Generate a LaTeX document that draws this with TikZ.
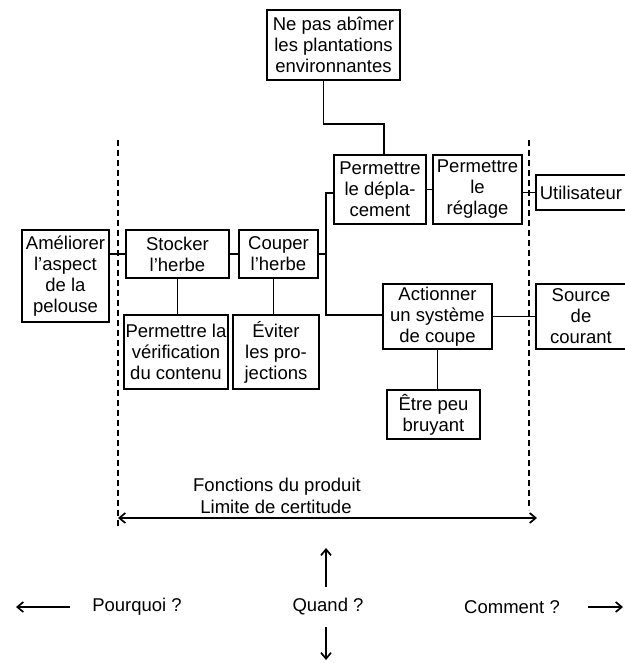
\documentclass[tikz,border=0pt]{standalone}
\usepackage{fontspec}
\setmainfont{Liberation Sans}
\usetikzlibrary{arrows.meta}
\newcommand\fafont{\fontsize{18.5}{21}\selectfont}
\begin{document}
\begin{tikzpicture}[x=1pt,y=-1pt,
  fbox/.style={draw, line width=2pt, inner sep=0pt, align=center, font=\fafont},
  link/.style={line width=1.7pt},
  limit/.style={line width=1.7pt, dash pattern=on 6pt off 4pt},
  arr/.style={line width=1.7pt, -{Straight Barb[length=6pt,width=10pt]}},
  lbl/.style={font=\fafont, inner sep=0pt}]
\useasboundingbox (0,0) rectangle (624,663);
\fill[white] (0,0) rectangle (624,663);

% function boxes
\node[fbox, minimum width=133pt, minimum height=70pt] (proteger) at (333.5,45) {Ne pas abîmer\\les plantations\\environnantes};
\node[fbox, minimum width=87pt, minimum height=92pt] (amel) at (65.5,276) {Améliorer\\l'aspect\\de la\\pelouse};
\node[fbox, minimum width=103pt, minimum height=48pt] (stock) at (177.5,254) {Stocker\\l'herbe};
\node[fbox, minimum width=79pt, minimum height=48pt] (coupe) at (278.5,254) {Couper\\l'herbe};
\node[fbox, minimum width=104pt, minimum height=74pt] (verif) at (176,352) {Permettre la\\vérification\\du contenu};
\node[fbox, minimum width=86pt, minimum height=74pt] (evit) at (276,352) {Éviter\\les pro-\\jections};
\node[fbox, minimum width=92pt, minimum height=69pt] (depl) at (380,189.5) {Permettre\\le dépla-\\cement};
\node[fbox, minimum width=89pt, minimum height=69pt] (regl) at (477.5,189.5) {Permettre\\le\\réglage};
\node[fbox, minimum width=90pt, minimum height=35pt] (util) at (581,192.5) {Utilisateur};
\node[fbox, minimum width=109pt, minimum height=65pt] (action) at (437.5,316.5) {Actionner\\un système\\de coupe};
\node[fbox, minimum width=90pt, minimum height=65pt] (source) at (581,316.5) {Source\\de\\courant};
\node[fbox, minimum width=93pt, minimum height=49pt] (etre) at (433.5,414.5) {Être peu\\bruyant};

% links between functions
\draw[link] ([xshift=-10pt]proteger.south) -- ++(0,43) -| ([xshift=4pt]depl.north);
\coordinate (sptop) at (326,193);
\coordinate (spbot) at (326,315);
\draw[link] (depl.west |- sptop) -- (sptop) -- (spbot) -- (action.west |- spbot);
\draw[link] (coupe.east) -- (coupe.east -| sptop);
\draw[link] (stock.west) -- (stock.west -| amel.east);
\draw[link] (stock.east) -- (coupe.west);
\draw[link] (stock.south) -- (stock.south |- verif.north);
\draw[link] ([xshift=-5pt]coupe.south) -- ([xshift=-5pt]coupe.south |- evit.north);
\draw[link] (depl.east) -- (regl.west);
\draw[link] (regl.east |- util.west) -- (util.west);
\draw[link] (action.east) -- (source.west);
\draw[link] (action.south) -- (action.south |- etre.north);

% limits of the product
\draw[limit] (118,140) -- (118,528);
\draw[limit] (529,140) -- (529,510);
\coordinate (certL) at (118,518);
\coordinate (certR) at (537,518);
\draw[line width=1.7pt, {Straight Barb[length=6pt,width=10pt]}-{Straight Barb[length=6pt,width=10pt]}] (certL) -- (certR);
\node[lbl] (fonctions) at (277,487) {Fonctions du produit};
\node[lbl] (certitude) at (276,507) {Limite de certitude};

% reading directions
\node[lbl] (pourquoi) at (137,607) {Pourquoi~?};
\node[lbl] (quand) at (328,607) {Quand~?};
\node[lbl] (comment) at (512,607) {Comment~?};
\coordinate (upS) at (326,587);
\coordinate (upE) at (326,548);
\coordinate (dnS) at (326,627);
\coordinate (dnE) at (326,660);
\coordinate (lfS) at (70,607);
\coordinate (lfE) at (16,607);
\coordinate (rtS) at (588,607);
\coordinate (rtE) at (623,607);
\draw[arr] (upS) -- (upE);
\draw[arr] (dnS) -- (dnE);
\draw[arr] (lfS) -- (lfE);
\draw[arr] (rtS) -- (rtE);
\end{tikzpicture}
\end{document}
